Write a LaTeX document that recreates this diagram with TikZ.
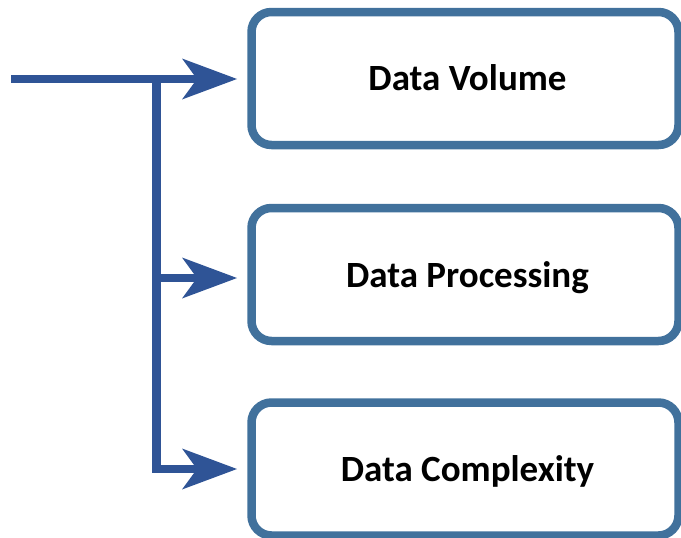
\documentclass[tikz,border=0pt]{standalone}
\usepackage{fontspec}
\setmainfont{Carlito}
\usetikzlibrary{arrows.meta}
\definecolor{arrowblue}{HTML}{2F5496}
\definecolor{boxblue}{HTML}{41719C}
\tikzset{
  databox/.style={draw=boxblue, line width=8.5pt, rounded corners=20pt, fill=white,
    minimum width=427pt, minimum height=133pt, inner sep=0pt, outer sep=0pt,
    font=\bfseries\fontsize{37}{42}\selectfont, text height=21pt, text depth=0pt},
  conn/.style={draw=arrowblue, line width=8.5pt, line join=miter,
    -{Stealth[length=55pt, width=41pt, inset=15pt, line width=0pt]}, shorten >=14.5pt},
  boxlabel/.style={font=\bfseries\fontsize{37}{42}\selectfont, inner sep=0pt}
}
\begin{document}
\begin{tikzpicture}[x=1pt, y=-1pt]
\useasboundingbox (0,0) rectangle (681,538);
\node[databox] (b1) at (465,78.5) {};
\node[databox] (b2) at (465,274.5) {};
\node[databox] (b3) at (465,469) {};
\node[boxlabel, anchor=base] (t1) at ([xshift=2.5pt,yshift=-11.5pt]b1.center) {Data Volume};
\node[boxlabel, anchor=base] (t2) at ([xshift=2.5pt,yshift=-13pt]b2.center) {Data Processing};
\node[boxlabel, anchor=base] (t3) at ([xshift=2.5pt,yshift=-12pt]b3.center) {Data Complexity};
\coordinate (s) at (11,79);
\coordinate (j1) at (156.5,79);
\coordinate (j2) at (156.5,278);
\draw[conn] (s) -- (s -| b1.west);
\draw[conn] (j1) |- (b3.west);
\draw[conn] (j2) -- (j2 -| b2.west);
\end{tikzpicture}
\end{document}
